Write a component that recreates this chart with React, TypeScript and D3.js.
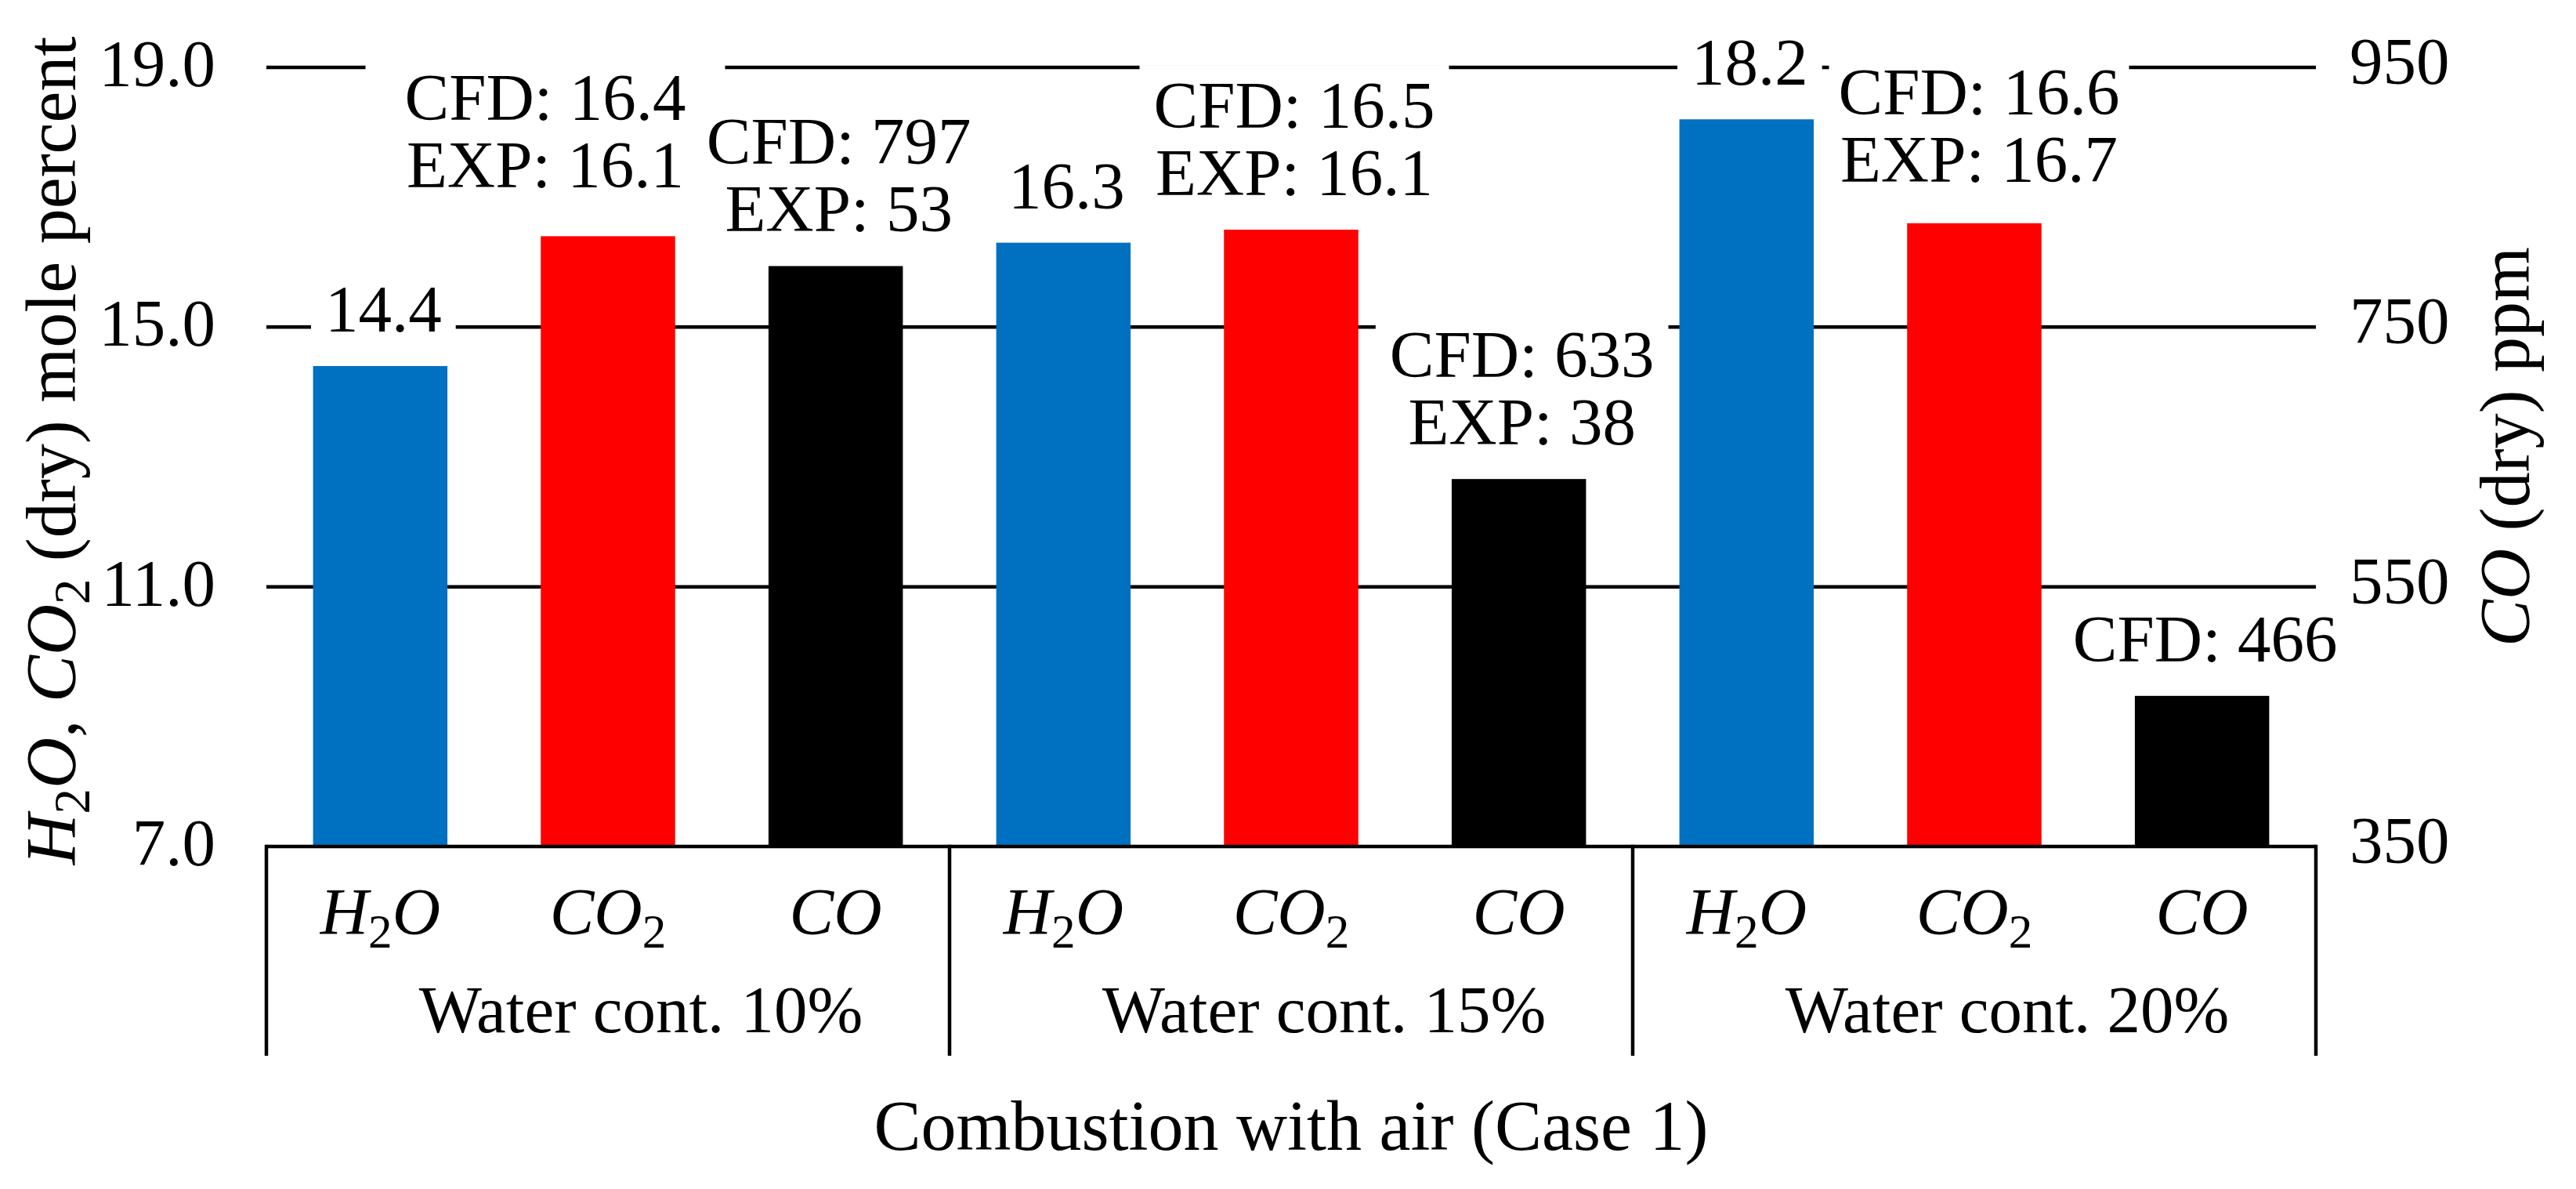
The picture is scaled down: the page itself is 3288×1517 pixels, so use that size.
import { useEffect, useRef } from "react"
import * as d3 from "d3"

// chart data
const groups = ["Water cont. 10%", "Water cont. 15%", "Water cont. 20%"]
const species = ["H2O", "CO2", "CO"]
const h2oValues = [14.4, 16.3, 18.2]
const co2Cfd = [16.4, 16.5, 16.6]
const co2Exp = [16.1, 16.1, 16.7]
const coCfd = [797, 633, 466]
const coExp: (number | null)[] = [53, 38, null]
const leftTicks = [7, 11, 15, 19]
const rightTicks = [350, 550, 750, 950]
const speciesColor: Record<string, string> = { H2O: "#0070C0", CO2: "#FF0000", CO: "#000000" }

// manual nudges of a few data labels (group, species) -> offsets
const labelNudge: Record<string, { dx: number; gap: number; padX: number }> = {
  "0-CO2": { dx: -80, gap: 62, padX: 50 },
  "2-CO2": { dx: 6, gap: 53, padX: 12 },
}

const FONT = "'Liberation Serif', 'Times New Roman', serif"

type Part = { t: string; it?: boolean; sub?: boolean }

function formula(name: string): Part[] {
  if (name === "H2O") return [{ t: "H", it: true }, { t: "2", sub: true }, { t: "O", it: true }]
  if (name === "CO2") return [{ t: "CO", it: true }, { t: "2", sub: true }]
  return [{ t: name, it: true }]
}

function appendParts(
  text: d3.Selection<SVGTextElement, unknown, null, undefined>,
  parts: Part[],
  size: number,
) {
  const shift = size * 0.2
  let down = false
  parts.forEach((p) => {
    const ts = text.append("tspan").text(p.t)
    if (p.it) ts.attr("font-style", "italic")
    if (p.sub) {
      ts.attr("font-size", size * 0.72).attr("dy", shift)
      down = true
    } else if (down) {
      ts.attr("dy", -shift)
      down = false
    }
  })
}

export default function App() {
  const svgRef = useRef<SVGSVGElement>(null)

  useEffect(() => {
    if (!svgRef.current) return
    const svg = d3.select(svgRef.current)
    svg.selectAll("*").remove()

    const left = 340
    const right = 2956
    const top = 86
    const bottom = 1080
    const boxBottom = 1347
    const fs = 85
    const titleFs = 90
    const stroke = 4.5

    const xGroup = d3.scaleBand().domain(groups).range([left, right])
    const xSpecies = d3
      .scaleBand()
      .domain(species)
      .range([0, xGroup.bandwidth()])
      .paddingInner(0.41)
      .paddingOuter(0.205)
    const yLeft = d3.scaleLinear().domain([7, 19]).range([bottom, top])
    const yRight = d3.scaleLinear().domain([350, 950]).range([bottom, top])

    const g = svg.append("g").attr("font-family", FONT).attr("fill", "#000")

    // gridlines
    g.selectAll(".grid")
      .data(leftTicks.filter((t) => t > 7))
      .enter()
      .append("line")
      .attr("x1", left)
      .attr("x2", right)
      .attr("y1", (d) => yLeft(d))
      .attr("y2", (d) => yLeft(d))
      .attr("stroke", "#000")
      .attr("stroke-width", stroke)

    // bars
    const bars: { gi: number; sp: string; x: number; y: number; lines: string[] }[] = []
    groups.forEach((grp, gi) => {
      species.forEach((sp) => {
        const x = (xGroup(grp) || 0) + (xSpecies(sp) || 0)
        let y = 0
        let lines: string[] = []
        if (sp === "H2O") {
          y = yLeft(h2oValues[gi])
          lines = [d3.format(".1f")(h2oValues[gi])]
        } else if (sp === "CO2") {
          y = yLeft(co2Cfd[gi])
          lines = [`CFD: ${d3.format(".1f")(co2Cfd[gi])}`, `EXP: ${d3.format(".1f")(co2Exp[gi])}`]
        } else {
          y = yRight(coCfd[gi])
          lines = [`CFD: ${coCfd[gi]}`]
          if (coExp[gi] !== null) lines.push(`EXP: ${coExp[gi]}`)
        }
        bars.push({ gi, sp, x, y, lines })
      })
    })

    g.selectAll(".bar")
      .data(bars)
      .enter()
      .append("rect")
      .attr("x", (d) => d.x)
      .attr("y", (d) => d.y)
      .attr("width", xSpecies.bandwidth())
      .attr("height", (d) => bottom - d.y)
      .attr("fill", (d) => speciesColor[d.sp])

    // data labels with white boxes
    const lineH = 86
    bars.forEach((b) => {
      const nudge = labelNudge[`${b.gi}-${b.sp}`] || { dx: 4, gap: 44, padX: 18 }
      const cx = b.x + xSpecies.bandwidth() / 2 + nudge.dx
      const lastBase = b.y - nudge.gap
      const lg = g.append("g")
      const bg = lg.append("rect").attr("fill", "#fff")
      const txt = lg.append("text").attr("text-anchor", "middle").attr("font-size", fs)
      b.lines.forEach((ln, i) => {
        txt
          .append("tspan")
          .attr("x", cx)
          .attr("y", lastBase - (b.lines.length - 1 - i) * lineH)
          .text(ln)
      })
      const bb = (txt.node() as SVGTextElement).getBBox()
      bg.attr("x", bb.x - nudge.padX)
        .attr("y", bb.y - 4)
        .attr("width", bb.width + nudge.padX * 2)
        .attr("height", bb.height + 8)
    })

    // axis line and category boxes
    g.append("line")
      .attr("x1", left)
      .attr("x2", right)
      .attr("y1", bottom)
      .attr("y2", bottom)
      .attr("stroke", "#000")
      .attr("stroke-width", stroke)
    const bounds = [...groups.map((d) => xGroup(d) || 0), right]
    g.selectAll(".sep")
      .data(bounds)
      .enter()
      .append("line")
      .attr("x1", (d) => d)
      .attr("x2", (d) => d)
      .attr("y1", bottom - stroke / 2)
      .attr("y2", boxBottom)
      .attr("stroke", "#000")
      .attr("stroke-width", stroke)

    // tick labels
    g.selectAll(".ltick")
      .data(leftTicks)
      .enter()
      .append("text")
      .attr("x", 275)
      .attr("y", (d) => yLeft(d) + 24)
      .attr("text-anchor", "end")
      .attr("font-size", fs)
      .text((d) => d3.format(".1f")(d))
    g.selectAll(".rtick")
      .data(rightTicks)
      .enter()
      .append("text")
      .attr("x", 2999)
      .attr("y", (d) => yRight(d) + 21)
      .attr("text-anchor", "start")
      .attr("font-size", fs)
      .text((d) => String(d))

    // category labels
    groups.forEach((grp) => {
      species.forEach((sp) => {
        const cx = (xGroup(grp) || 0) + (xSpecies(sp) || 0) + xSpecies.bandwidth() / 2
        const t = g
          .append("text")
          .attr("x", cx)
          .attr("y", 1192)
          .attr("text-anchor", "middle")
          .attr("font-size", fs)
        appendParts(t, formula(sp), fs)
      })
      g.append("text")
        .attr("x", (xGroup(grp) || 0) + xGroup.bandwidth() / 2 + 42)
        .attr("y", 1317)
        .attr("text-anchor", "middle")
        .attr("font-size", fs)
        .text(grp)
    })

    // axis titles
    g.append("text")
      .attr("x", (left + right) / 2)
      .attr("y", 1467)
      .attr("text-anchor", "middle")
      .attr("font-size", titleFs)
      .text("Combustion with air (Case 1)")

    const lt = g
      .append("text")
      .attr("transform", `translate(96,${(top + bottom) / 2 - 8}) rotate(-90)`)
      .attr("text-anchor", "middle")
      .attr("font-size", titleFs)
    appendParts(
      lt,
      [
        { t: "H", it: true },
        { t: "2", sub: true },
        { t: "O", it: true },
        { t: ", " },
        { t: "CO", it: true },
        { t: "2", sub: true },
        { t: " (dry) mole percent" },
      ],
      titleFs,
    )

    const rt = g
      .append("text")
      .attr("transform", `translate(3228,${(top + bottom) / 2 - 13}) rotate(-90)`)
      .attr("text-anchor", "middle")
      .attr("font-size", titleFs)
    appendParts(rt, [{ t: "CO", it: true }, { t: " (dry) ppm" }], titleFs)
  }, [])

  return (
    <svg
      ref={svgRef}
      width={3288}
      height={1517}
      style={{ position: "absolute", left: 0, top: 0, background: "#fff" }}
    />
  )
}
